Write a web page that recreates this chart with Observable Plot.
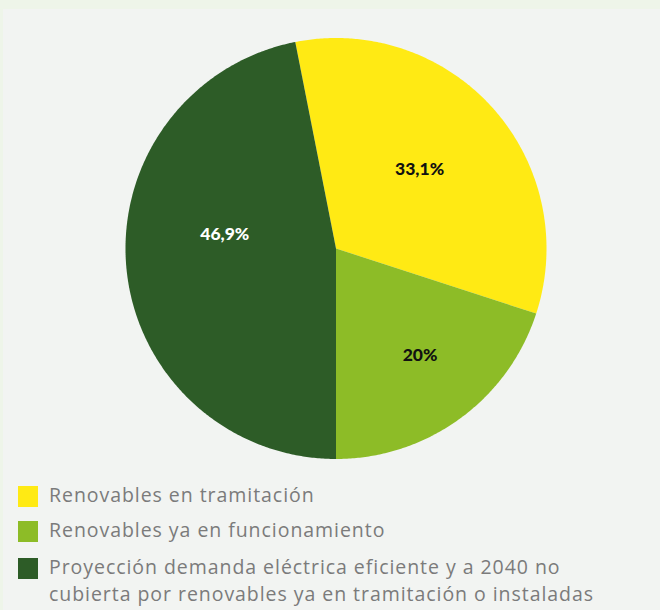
<!DOCTYPE html>
<html>
<head>
<meta charset="utf-8">
<script src="https://cdn.jsdelivr.net/npm/d3@7"></script>
<script src="https://cdn.jsdelivr.net/npm/@observablehq/plot@0.6"></script>
<style>
  html, body { margin: 0; padding: 0; }
  body { width: 660px; height: 610px; background: #eef5e9; position: relative; overflow: hidden; }
  #panel { position: absolute; left: 3px; top: 9px; width: 657px; height: 601px; background: #f2f4f2; }
  #chart { position: absolute; left: 0; top: 0; }
  #legend { position: absolute; left: 0; top: 0; font-family: "Open Sans", "Noto Sans", sans-serif; font-size: 19.5px; color: #7b7b7b; }
  .item { position: absolute; left: 49px; line-height: 27px; white-space: nowrap; letter-spacing: 0.95px; }
  .sw { position: absolute; left: -31px; top: 5px; width: 20px; height: 21px; }
</style>
</head>
<body>
<div id="panel"></div>
<div id="chart"></div>
<div id="legend"></div>
<script>
const categories = [
  "Renovables en tramitación",
  "Renovables ya en funcionamiento",
  "Proyección demanda eléctrica eficiente y a 2040 no cubierta por renovables ya en tramitación o instaladas"
];
const values = [33.1, 20, 46.9];
const valueLabels = ["33,1%", "20%", "46,9%"];
const colors = ["#ffea14", "#8dbc27", "#2d5c27"];
const labelColors = ["#111111", "#111111", "#ffffff"];

const total = d3.sum(values);
// last slice starts at the bottom (pi), slices run clockwise from north
const startAngle = Math.PI - 2 * Math.PI * (total - values[values.length - 1]) / total;
const pie = d3.pie().sort(null).value(d => d).startAngle(startAngle).endAngle(startAngle + 2 * Math.PI);
const arcs = pie(values);

const pts = [];
arcs.forEach((a, i) => {
  pts.push({cat: categories[i], x: 0, y: 0, i});
  const n = Math.max(2, Math.ceil((a.endAngle - a.startAngle) / (Math.PI / 360)));
  for (let k = 0; k <= n; k++) {
    const t = a.startAngle + (a.endAngle - a.startAngle) * k / n;
    pts.push({cat: categories[i], x: Math.sin(t), y: Math.cos(t), i});
  }
});

const R = 210.5;
const nudge = [[-3, -2], [16, 13], [4, -25]]; // pixel tweaks for label placement
const labelData = arcs.map((a, i) => {
  const m = (a.startAngle + a.endAngle) / 2;
  const r = 0.55;
  return {
    text: valueLabels[i],
    x: r * Math.sin(m) + nudge[i][0] / R,
    y: r * Math.cos(m) - nudge[i][1] / R,
    fill: labelColors[i]
  };
});

const chart = Plot.plot({
  width: 660,
  height: 470,
  marginLeft: 125,
  marginRight: 660 - 125 - 2 * R,
  marginTop: 37.5,
  marginBottom: 470 - 37.5 - 2 * R,
  x: {domain: [-1, 1], axis: null},
  y: {domain: [-1, 1], axis: null},
  color: {domain: categories, range: colors},
  style: {background: "transparent", overflow: "visible"},
  marks: [
    Plot.line(pts, {x: "x", y: "y", z: "cat", fill: "cat", stroke: "none", curve: "linear-closed"}),
    Plot.text(labelData, {x: "x", y: "y", text: "text", fill: d => d.fill, fontSize: 17.5, fontWeight: 900, fontFamily: "Lato, 'Open Sans', sans-serif"})
  ]
});
document.getElementById("chart").appendChild(chart);

const legend = document.getElementById("legend");
const tops = [481, 516, 553];
const lines = [
  [categories[0]],
  [categories[1]],
  ["Proyección demanda eléctrica eficiente y a 2040 no", "cubierta por renovables ya en tramitación o instaladas"]
];
categories.forEach((c, i) => {
  const div = document.createElement("div");
  div.className = "item";
  div.style.top = tops[i] + "px";
  const sw = document.createElement("div");
  sw.className = "sw";
  sw.style.background = colors[i];
  div.appendChild(sw);
  lines[i].forEach((t, j) => {
    if (j) div.appendChild(document.createElement("br"));
    div.appendChild(document.createTextNode(t));
  });
  legend.appendChild(div);
});
</script>
</body>
</html>
